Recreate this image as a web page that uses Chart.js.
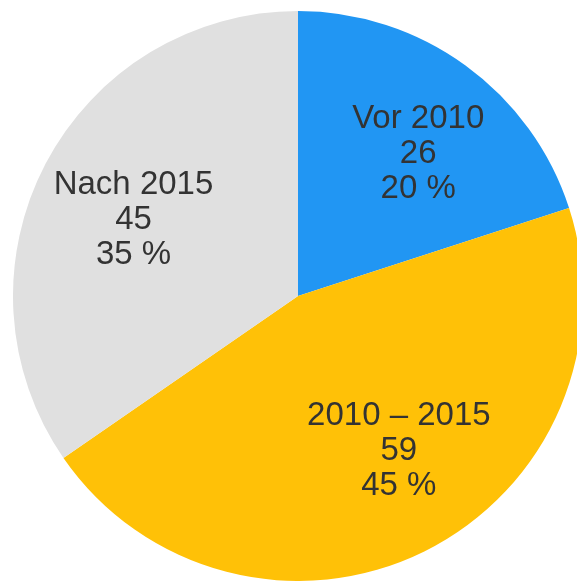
<!DOCTYPE html>
<html>
<head>
<meta charset="utf-8">
<script src="https://cdn.jsdelivr.net/npm/chart.js@4"></script>
<style>
  html, body { margin: 0; padding: 0; width: 577px; height: 581px; overflow: hidden; background: #fff; }
  #wrap { position: absolute; left: 13px; top: 11px; width: 570px; height: 570px; }
</style>
</head>
<body>
<div id="wrap"><canvas id="chart-torte" width="570" height="570"></canvas></div>
<script>
// Daten
const kategorien = ['Vor 2010', '2010 – 2015', 'Nach 2015'];
const werte = [26, 59, 45];
const farben = ['#2196F3', '#FFC107', '#E0E0E0'];

// kleine Verschiebung der Beschriftung je Segment (px)
const labelVersatz = [[13, 3], [20, -12], [-3, 6]];

const beschriftung = {
    id: 'beschriftung',
    afterDatasetsDraw(chart) {
        const ctx = chart.ctx;
        const meta = chart.getDatasetMeta(0);
        const summe = werte.reduce((a, b) => a + b, 0);
        ctx.save();
        ctx.font = '33px "Liberation Sans", Arial, sans-serif';
        ctx.fillStyle = '#333333';
        ctx.textAlign = 'center';
        ctx.textBaseline = 'alphabetic';
        meta.data.forEach((arc, i) => {
            const p = arc.getProps(['x', 'y', 'startAngle', 'endAngle', 'outerRadius'], true);
            const mitte = (p.startAngle + p.endAngle) / 2;
            const r = p.outerRadius * 0.64;
            const cx = p.x + Math.cos(mitte) * r + labelVersatz[i][0];
            const cy = p.y + Math.sin(mitte) * r + labelVersatz[i][1];
            const prozent = Math.round(werte[i] / summe * 100) + ' %';
            const zeilen = [kategorien[i], String(werte[i]), prozent];
            zeilen.forEach((z, k) => {
                ctx.fillText(z, cx, cy + 12 + (k - 1) * 35);
            });
        });
        ctx.restore();
    }
};

new Chart(document.getElementById('chart-torte'), {
    type: 'pie',
    data: {
        labels: kategorien,
        datasets: [{
            data: werte,
            backgroundColor: farben,
            borderWidth: 0
        }]
    },
    options: {
        responsive: false,
        animation: false,
        layout: { padding: 0 },
        plugins: {
            legend: { display: false },
            tooltip: { enabled: false }
        }
    },
    plugins: [beschriftung]
});
</script>
</body>
</html>
